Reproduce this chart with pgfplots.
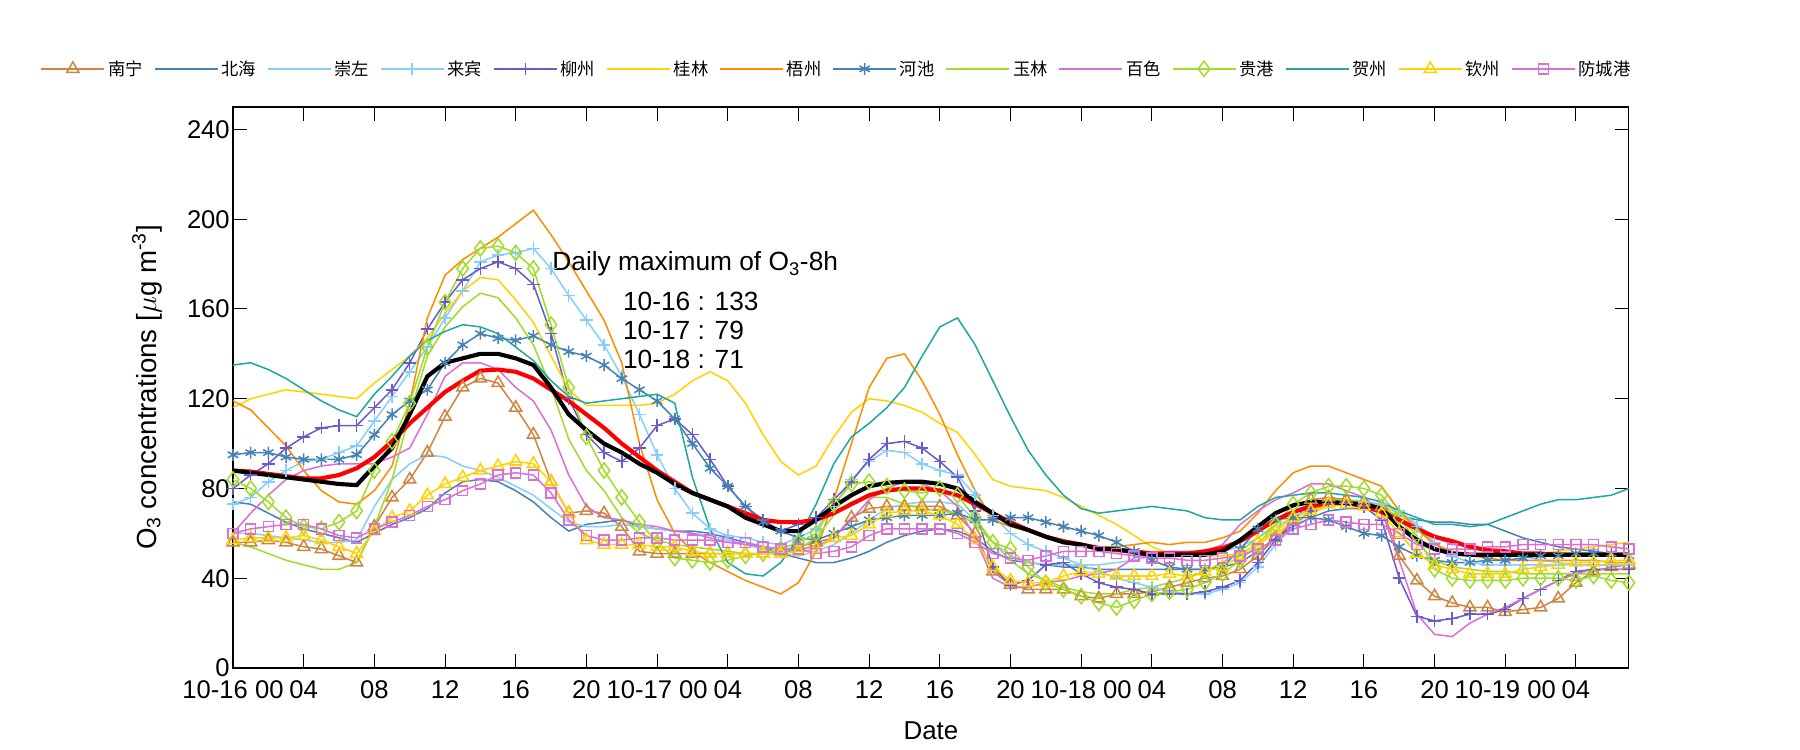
\documentclass[border=0pt]{standalone}
\usepackage{fontspec}
\setmainfont{Liberation Sans}
\newfontfamily\cjk{Noto Sans CJK SC}
\usepackage{pgfplots}
\pgfplotsset{compat=1.18}
\definecolor{cNN}{RGB}{205,133,63}
\definecolor{cBH}{RGB}{70,130,180}
\definecolor{cCZ}{RGB}{135,206,250}
\definecolor{cLZ}{RGB}{106,90,205}
\definecolor{cGL}{RGB}{255,210,0}
\definecolor{cWZ}{RGB}{255,140,0}
\definecolor{cYL}{RGB}{160,220,40}
\definecolor{cBS}{RGB}{218,112,214}
\definecolor{cHZ}{RGB}{32,168,160}
\begin{document}
\begin{tikzpicture}
\useasboundingbox (0,0) rectangle (18in,7.5in);
\begin{axis}[
  at={(2.33in,0.82in)}, anchor=south west, scale only axis,
  width=13.96in, height=5.61in,
  xmin=0, xmax=79, ymin=0, ymax=250,
  xtick={0,4,...,76},
  xticklabels={10-16 00,04,08,12,16,20,10-17 00,04,08,12,16,20,10-18 00,04,08,12,16,20,10-19 00,04},
  ytick={0,40,...,240},
  tick align=inside, major tick length=0.14in,
  tick style={black, line width=0.7pt},
  axis line style={line width=0.8pt},
  tick label style={font=\fontsize{18.5}{22}\selectfont},
  /pgf/number format/assume math mode=true,
  xticklabel style={yshift=-0.12in, inner sep=0pt},
  yticklabel style={xshift=-0.03in, inner sep=0pt},
  xlabel={Date},
  ylabel={O\textsubscript{3} concentrations [$\mu$g m\textsuperscript{-3}]},
  xlabel style={font=\fontsize{18.7}{22}\selectfont, at={(axis description cs:0.5,-0.112)}, anchor=center},
  ylabel style={font=\fontsize{20}{24}\selectfont, at={(axis description cs:-0.0616,0.5)}, anchor=center},
  every axis plot/.append style={line width=1.1pt},
  legend image code/.code={\draw[mark repeat=2,mark phase=2] plot coordinates {(0in,0in) (0.315in,0in) (0.63in,0in)};},
  legend style={at={(axis description cs:-0.138,1.068)}, anchor=west, draw=none, fill=none,
    legend columns=14, font=\cjk\fontsize{12.5}{14}\selectfont, inner sep=0pt,
    nodes={inner sep=0.03in}, /tikz/every even column/.append style={column sep=0.08in}},
]
% 南宁
\addplot[color=cNN, mark=triangle, mark size=5pt, mark options={solid}] table[row sep=\\, header=false, x expr=\coordindex, y index=0] {56\\56\\57\\56\\54\\53\\50\\47\\63\\76\\84\\96\\112\\125\\129\\127\\116\\104\\83\\69\\70\\69\\63\\52\\51\\51\\51\\51\\51\\51\\51\\52\\54\\56\\58\\67\\71\\72\\72\\72\\72\\68\\60\\43\\37\\35\\35\\35\\32\\31\\33\\33\\34\\36\\38\\40\\41\\44\\50\\58\\65\\75\\76\\75\\74\\72\\50\\39\\32\\29\\27\\27\\25\\26\\27\\31\\38\\43\\45\\46\\};
\addlegendentry{南宁}
% 北海
\addplot[color=cBH] table[row sep=\\, header=false, x expr=\coordindex, y index=0] {74\\73\\69\\65\\62\\60\\58\\56\\60\\64\\67\\71\\78\\83\\84\\83\\79\\74\\67\\61\\64\\65\\66\\63\\62\\61\\61\\60\\58\\56\\54\\51\\49\\47\\47\\49\\52\\56\\59\\61\\62\\61\\58\\52\\48\\47\\46\\45\\45\\44\\44\\44\\44\\44\\44\\44\\45\\47\\52\\58\\63\\67\\70\\71\\71\\70\\68\\66\\65\\65\\64\\64\\61\\58\\56\\54\\53\\52\\51\\51\\};
\addlegendentry{北海}
% 崇左
\addplot[color=cCZ] table[row sep=\\, header=false, x expr=\coordindex, y index=0] {60\\60\\59\\58\\57\\56\\56\\57\\72\\84\\91\\95\\94\\90\\88\\85\\81\\77\\71\\65\\63\\63\\64\\63\\62\\61\\60\\59\\57\\55\\53\\51\\50\\52\\55\\60\\66\\71\\73\\74\\74\\73\\66\\56\\50\\47\\46\\46\\46\\46\\47\\48\\50\\51\\51\\51\\52\\54\\58\\63\\67\\71\\73\\74\\74\\73\\70\\64\\58\\55\\54\\53\\52\\50\\48\\47\\46\\46\\46\\46\\};
\addlegendentry{崇左}
% 来宾
\addplot[color=cCZ, mark=+, mark size=4.5pt, mark options={solid}] table[row sep=\\, header=false, x expr=\coordindex, y index=0] {73\\76\\83\\88\\92\\93\\96\\99\\110\\121\\132\\143\\156\\168\\181\\184\\185\\187\\178\\166\\155\\144\\130\\113\\95\\80\\69\\62\\59\\58\\56\\55\\58\\62\\72\\84\\92\\97\\96\\91\\88\\86\\77\\68\\60\\55\\52\\49\\46\\43\\40\\38\\36\\34\\33\\33\\35\\38\\45\\55\\63\\70\\73\\74\\74\\73\\70\\63\\56\\50\\47\\46\\46\\46\\46\\46\\46\\46\\46\\46\\};
\addlegendentry{来宾}
% 柳州
\addplot[color=cLZ, mark=+, mark size=4.5pt, mark options={solid}] table[row sep=\\, header=false, x expr=\coordindex, y index=0] {80\\86\\91\\98\\103\\107\\108\\108\\116\\124\\136\\151\\163\\173\\178\\181\\178\\171\\149\\120\\104\\96\\92\\98\\108\\111\\104\\93\\81\\72\\66\\61\\64\\67\\75\\83\\93\\100\\101\\98\\92\\85\\70\\45\\37\\39\\46\\47\\42\\38\\36\\35\\33\\33\\33\\34\\36\\39\\47\\57\\64\\70\\73\\74\\72\\66\\40\\23\\21\\22\\24\\24\\26\\31\\35\\39\\43\\44\\44\\44\\};
\addlegendentry{柳州}
% 桂林
\addplot[color=cGL] table[row sep=\\, header=false, x expr=\coordindex, y index=0] {116\\120\\122\\124\\123\\122\\121\\120\\127\\133\\139\\147\\158\\168\\174\\173\\164\\154\\139\\124\\117\\117\\117\\117\\118\\122\\128\\132\\128\\118\\104\\92\\86\\90\\103\\114\\120\\119\\117\\114\\109\\105\\95\\84\\81\\80\\79\\76\\72\\68\\64\\59\\54\\51\\50\\50\\50\\51\\55\\60\\65\\69\\72\\73\\73\\72\\69\\62\\55\\52\\51\\50\\50\\50\\51\\52\\53\\54\\55\\56\\};
\addlegendentry{桂林}
% 梧州
\addplot[color=cWZ] table[row sep=\\, header=false, x expr=\coordindex, y index=0] {119\\115\\107\\99\\88\\79\\74\\73\\79\\90\\118\\156\\175\\182\\187\\192\\198\\204\\193\\181\\168\\155\\136\\100\\75\\60\\52\\47\\43\\39\\36\\33\\38\\52\\75\\100\\125\\138\\140\\128\\113\\95\\79\\66\\63\\61\\59\\56\\55\\54\\54\\55\\56\\55\\56\\56\\58\\61\\69\\79\\87\\90\\90\\87\\84\\81\\70\\62\\55\\52\\50\\49\\48\\48\\48\\48\\48\\48\\47\\47\\};
\addlegendentry{梧州}
% 河池
\addplot[color=cBH, mark=asterisk, mark size=4.3pt, mark options={solid}] table[row sep=\\, header=false, x expr=\coordindex, y index=0] {95\\96\\96\\94\\93\\93\\93\\95\\104\\113\\119\\124\\136\\144\\149\\147\\146\\148\\144\\141\\139\\135\\129\\124\\119\\111\\100\\89\\81\\72\\65\\61\\58\\57\\60\\63\\66\\67\\68\\68\\68\\69\\66\\66\\67\\67\\65\\63\\61\\59\\56\\52\\48\\45\\44\\44\\45\\53\\62\\66\\67\\67\\66\\63\\60\\59\\54\\50\\48\\47\\47\\48\\48\\49\\50\\50\\51\\51\\51\\50\\};
\addlegendentry{河池}
% 玉林
\addplot[color=cYL] table[row sep=\\, header=false, x expr=\coordindex, y index=0] {56\\54\\51\\48\\46\\44\\44\\47\\63\\84\\113\\139\\152\\161\\167\\165\\156\\144\\125\\102\\88\\79\\67\\60\\57\\55\\54\\53\\52\\51\\51\\51\\53\\58\\68\\74\\76\\76\\73\\71\\70\\69\\64\\56\\48\\42\\39\\36\\34\\33\\33\\35\\36\\38\\40\\43\\47\\52\\58\\64\\70\\73\\75\\75\\74\\72\\67\\56\\48\\45\\44\\43\\43\\42\\42\\42\\42\\42\\42\\42\\};
\addlegendentry{玉林}
% 百色
\addplot[color=cBS] table[row sep=\\, header=false, x expr=\coordindex, y index=0] {60\\69\\77\\84\\88\\90\\91\\91\\91\\94\\98\\113\\130\\136\\136\\133\\125\\119\\106\\86\\72\\67\\66\\64\\63\\61\\60\\58\\56\\55\\54\\53\\53\\54\\58\\66\\75\\80\\83\\82\\79\\72\\58\\40\\36\\36\\38\\39\\41\\42\\44\\49\\51\\52\\52\\52\\55\\64\\70\\75\\78\\82\\82\\79\\76\\70\\48\\24\\15\\14\\20\\24\\27\\31\\35\\39\\42\\44\\44\\44\\};
\addlegendentry{百色}
% 贵港
\addplot[color=cYL, mark=diamond, mark size=5.5pt, mark options={solid}] table[row sep=\\, header=false, x expr=\coordindex, y index=0] {84\\80\\74\\67\\63\\62\\65\\70\\88\\101\\118\\143\\163\\178\\187\\188\\185\\178\\153\\125\\103\\88\\76\\65\\56\\49\\48\\47\\48\\50\\51\\53\\56\\60\\73\\82\\83\\81\\79\\78\\80\\77\\67\\56\\53\\45\\38\\35\\32\\29\\27\\30\\33\\34\\35\\38\\42\\48\\55\\64\\73\\78\\81\\81\\80\\77\\67\\59\\44\\40\\39\\39\\39\\40\\40\\40\\39\\41\\39\\38\\};
\addlegendentry{贵港}
% 贺州
\addplot[color=cHZ] table[row sep=\\, header=false, x expr=\coordindex, y index=0] {135\\136\\133\\129\\124\\119\\115\\112\\122\\130\\139\\146\\150\\153\\152\\149\\143\\137\\128\\121\\118\\119\\120\\121\\122\\118\\85\\62\\47\\42\\41\\47\\58\\73\\91\\103\\109\\116\\125\\139\\152\\156\\144\\128\\112\\97\\86\\77\\71\\69\\70\\71\\72\\71\\70\\67\\66\\66\\72\\76\\77\\78\\78\\77\\76\\74\\70\\67\\64\\64\\63\\64\\67\\70\\73\\75\\75\\76\\77\\80\\};
\addlegendentry{贺州}
% 钦州
\addplot[color=cGL, mark=triangle, mark size=5pt, mark options={solid}] table[row sep=\\, header=false, x expr=\coordindex, y index=0] {57\\58\\58\\58\\59\\57\\54\\51\\61\\67\\70\\77\\82\\85\\88\\90\\92\\91\\83\\69\\57\\55\\55\\55\\54\\54\\52\\51\\51\\51\\51\\51\\52\\53\\58\\59\\64\\69\\70\\70\\68\\64\\57\\45\\39\\38\\38\\41\\43\\42\\41\\41\\41\\42\\41\\43\\45\\50\\56\\61\\67\\70\\73\\73\\72\\69\\60\\51\\46\\44\\42\\42\\42\\44\\45\\46\\47\\47\\48\\48\\};
\addlegendentry{钦州}
% 防城港
\addplot[color=cBS, mark=square, mark size=3.6pt, mark options={solid}] table[row sep=\\, header=false, x expr=\coordindex, y index=0] {60\\62\\63\\64\\64\\62\\59\\58\\62\\65\\68\\72\\75\\79\\82\\86\\87\\86\\78\\66\\59\\57\\57\\58\\58\\57\\57\\57\\56\\56\\54\\53\\53\\51\\52\\54\\59\\62\\62\\62\\62\\60\\56\\51\\49\\48\\50\\52\\52\\52\\51\\50\\49\\49\\48\\48\\49\\50\\53\\57\\62\\64\\66\\65\\64\\64\\60\\55\\53\\53\\53\\54\\54\\55\\55\\55\\55\\55\\54\\53\\};
\addlegendentry{防城港}
% red
\addplot[color=red, line width=3pt, forget plot] table[row sep=\\, header=false, x expr=\coordindex, y index=0] {88\\87.5\\86.5\\85.5\\84.5\\84.5\\86\\89\\94\\101\\109\\116\\123\\128\\132.5\\133\\132\\129\\124\\119\\113\\107\\100\\94\\88\\83\\78\\75\\72\\69\\66\\65\\65\\66\\69\\73\\77\\79\\80\\80\\79\\77\\73\\69\\65\\61.5\\58.5\\56.5\\55\\53.5\\52.5\\52\\51\\51\\51\\52\\53.5\\56.5\\61\\66\\69.5\\72\\73.5\\73.5\\72\\69.5\\66\\62\\58.5\\56.5\\54\\52.5\\52\\51\\51\\50.5\\50.5\\50.5\\50.5\\50.5\\};
% black
\addplot[color=black, line width=3pt, forget plot] table[row sep=\\, header=false, x expr=\coordindex, y index=0] {88\\87\\86\\85\\84\\83\\82\\81.5\\90\\98\\113\\130\\136\\138\\140\\140\\138\\135\\125\\113\\106\\100\\96\\91\\87\\82\\78\\75\\72\\67\\64\\61\\61\\66\\72\\77\\81\\82.5\\83\\83\\82\\80\\74\\69\\64\\61.5\\58.5\\56\\55\\53\\53\\51.5\\50.5\\50.5\\50.5\\50.5\\52\\57\\63\\69\\72.5\\74\\74\\73.5\\73\\71\\63\\57\\53\\51\\50.5\\50.5\\50.5\\50.5\\50.5\\50.5\\50.5\\50.5\\50.5\\50.5\\};
\node[anchor=west, font=\fontsize{19}{22}\selectfont] at (axis cs:17.8,180) {Daily maximum of O\textsubscript{3}-8h};
\node[anchor=west, font=\fontsize{19}{22}\selectfont] at (axis cs:21.8,163.5) {10-16 : 133};
\node[anchor=west, font=\fontsize{19}{22}\selectfont] at (axis cs:21.8,150.2) {10-17 : 79};
\node[anchor=west, font=\fontsize{19}{22}\selectfont] at (axis cs:21.8,137.3) {10-18 : 71};
\end{axis}
\end{tikzpicture}
\end{document}
